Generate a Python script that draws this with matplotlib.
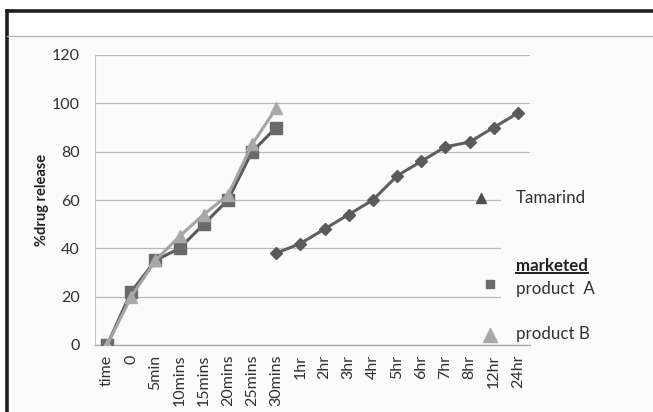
import numpy as np
import matplotlib
matplotlib.use("Agg")
import matplotlib.pyplot as plt
from matplotlib.patches import Rectangle
from matplotlib.lines import Line2D

plt.rcParams['font.family'] = ['Lato', 'DejaVu Sans']

# Sampling times and release profiles (% drug released)
times = ["time", "0", "5min", "10mins", "15mins", "20mins", "25mins", "30mins",
         "1hr", "2hr", "3hr", "4hr", "5hr", "6hr", "7hr", "8hr", "12hr", "24hr"]
nan = np.nan
tamarind = [nan, nan, nan, nan, nan, nan, nan, 38, 42, 48, 54, 60, 70, 76, 82, 84, 90, 96]
product_a = [0, 22, 35, 40, 50, 60, 80, 90] + [nan] * 10
product_b = [0, 20, 35, 45, 54, 62, 83, 98] + [nan] * 10
y_ticks = [0, 20, 40, 60, 80, 100, 120]

W, H = 653, 412
fig = plt.figure(figsize=(W / 100, H / 100), dpi=100)
fig.patch.set_facecolor("white")

# Chart frame: dark top/left border, grey title rule, light panel
fig.add_artist(Rectangle((7 / W, 0), 1, (H - 36) / H, transform=fig.transFigure,
                         facecolor="#fbfbfb", edgecolor="none", zorder=-10))
fig.add_artist(Line2D([7 / W, 1.0], [(H - 11) / H] * 2, transform=fig.transFigure,
                      color="#1e1e1e", lw=2.6, zorder=-5))
fig.add_artist(Line2D([6.5 / W] * 2, [0, (H - 11) / H], transform=fig.transFigure,
                      color="#1e1e1e", lw=2.6, zorder=-5))
fig.add_artist(Line2D([7 / W, 1.0], [(H - 36) / H] * 2, transform=fig.transFigure,
                      color="#b4b4b4", lw=0.9, zorder=-5))

ax = fig.add_axes([95 / W, (H - 345) / H, 435 / W, 290 / H])
ax.set_facecolor("#fbfbfb")
x = np.arange(len(times))

ax.plot(x, tamarind, color="#5f5f5f", lw=2.2, marker="D", ms=6.5,
        mfc="#5a5a5a", mec="#5a5a5a", zorder=3)
ax.plot(x, product_a, color="#5a5a5a", lw=2.2, marker="s", ms=8,
        mfc="#6a6a6a", mec="#6a6a6a", zorder=3)
ax.plot(x, product_b, color="#a4a4a4", lw=2.2, marker="^", ms=9,
        mfc="#a8a8a8", mec="#a8a8a8", zorder=4)

ax.set_xlim(-0.5, len(times) - 0.5)
ax.set_ylim(0, 120)
ax.set_yticks(y_ticks)
ax.set_xticks(x)
ax.set_xticklabels(times, rotation=90)
ax.tick_params(axis="both", length=0, labelsize=11.5, labelcolor="#303030")
ax.tick_params(axis="y", pad=11)
ax.tick_params(axis="x", pad=7)

ax.set_axisbelow(True)
ax.yaxis.grid(True, color="#b9b9b9", lw=0.9)
for side in ("top", "right"):
    ax.spines[side].set_visible(False)
ax.spines["left"].set_color("#c8c8c8")
ax.spines["bottom"].set_color("#a6a6a6")
ax.spines["left"].set_linewidth(0.8)
ax.spines["bottom"].set_linewidth(0.9)

ax.set_ylabel("%drug release", fontsize=10.5, fontweight="bold", color="#202020", labelpad=2)

# Legend panel sits over the right end of the lower gridlines
ax.add_patch(Rectangle((0.933, 0.004), 0.067, 0.56, transform=ax.transAxes,
                       facecolor="#fbfbfb", edgecolor="none", zorder=1))

lx, tx = 0.887, 0.968
fs = 12.2
ax.plot([lx], [0.507], transform=ax.transAxes, clip_on=False, marker="^", ms=7,
        color="#505050", ls="none", zorder=5)
ax.text(tx, 0.507, "Tamarind", transform=ax.transAxes, fontsize=fs,
        color="#303030", va="center", ha="left")

ax.plot([0.908], [0.212], transform=ax.transAxes, clip_on=False, marker="s", ms=6,
        color="#6a6a6a", ls="none", zorder=5)
mk = ax.text(tx, 0.272, "marketed", transform=ax.transAxes, fontsize=fs,
             fontweight="bold", color="#202020", va="center", ha="left")
ax.text(tx, 0.193, "product  A", transform=ax.transAxes, fontsize=fs,
        color="#303030", va="center", ha="left")

ax.plot([0.908], [0.036], transform=ax.transAxes, clip_on=False, marker="^", ms=10,
        color="#a8a8a8", ls="none", zorder=5)
ax.text(tx, 0.038, "product B", transform=ax.transAxes, fontsize=fs,
        color="#303030", va="center", ha="left")

# Underline the bold heading across its own width
fig.canvas.draw()
bb = mk.get_window_extent().transformed(ax.transAxes.inverted())
ax.add_artist(Line2D([bb.x0, bb.x1], [bb.y0 + 0.004] * 2, transform=ax.transAxes,
                     color="#202020", lw=1.4, clip_on=False))

fig.savefig("out.png", dpi=100, facecolor="white")
